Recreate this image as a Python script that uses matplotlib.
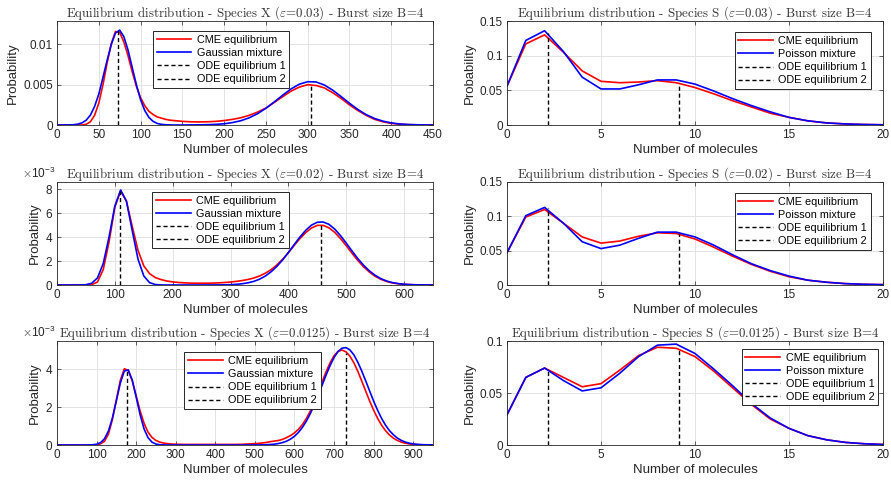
import matplotlib
matplotlib.use('Agg')
import matplotlib.pyplot as plt
from matplotlib.ticker import FuncFormatter, ScalarFormatter
import numpy as np

plt.rcParams['font.family'] = ['Liberation Sans', 'DejaVu Sans']
plt.rcParams['mathtext.fontset'] = 'cm'

# ---------------- Species X (left column) ----------------
# eps = 0.03
x1 = np.r_[0:150:5, 150:451:10]
x1_cme = [0, 0, 0, 0, 0, 0, 0, 0.0001, 0.0004, 0.0012, 0.0027, 0.0050, 0.0077, 0.0101,
          0.0116, 0.0115, 0.0103, 0.0086, 0.0066, 0.0048, 0.0034, 0.0024, 0.0017, 0.0013,
          0.0010, 0.00085, 0.0007, 0.0006, 0.00055, 0.0005,
          0.00045, 0.0004, 0.00038, 0.0004, 0.00045, 0.00055, 0.0007, 0.0009, 0.0012, 0.0016,
          0.0021, 0.0028, 0.0035, 0.0042, 0.0047, 0.0050, 0.0049, 0.0046, 0.0040, 0.0033,
          0.0025, 0.0018, 0.0012, 0.0007, 0.0004, 0.0002, 0.0001, 0.00005, 0.00002, 0.00001, 0]
x1_gauss = [0, 0.000001, 0.000004, 0.00001, 0.00004, 0.00011, 0.00027, 0.0006, 0.00123, 0.0023,
            0.00382, 0.0059, 0.00803, 0.0100, 0.01141, 0.01177, 0.01097, 0.0093, 0.00714, 0.0050,
            0.00314, 0.0018, 0.00094, 0.00045, 0.00019, 0.00008, 0.00003, 0.00001, 0, 0,
            0.000002, 0.00001, 0.00002, 0.00004, 0.00008, 0.00015, 0.0003, 0.00053, 0.00089, 0.0014,
            0.00207, 0.00286, 0.00369, 0.00447, 0.00506, 0.00537, 0.00534, 0.00496, 0.00432, 0.00353,
            0.0027, 0.00193, 0.00129, 0.00081, 0.00048, 0.00026, 0.00013, 0.00006, 0.00003, 0.00001, 0]

# eps = 0.02
x2 = np.arange(0, 651, 10)
x2_cme = np.array([0, 0, 0, 0, 0, 0, 0.03, 0.25, 1.3, 3.6, 6.5, 7.85, 7.0, 4.9, 2.9, 1.6,
                   0.95, 0.62, 0.45, 0.33, 0.26, 0.21, 0.18, 0.16, 0.15, 0.15, 0.15, 0.16, 0.18,
                   0.21, 0.25, 0.30, 0.37, 0.46, 0.58, 0.75, 0.98, 1.28, 1.67, 2.15, 2.70, 3.30,
                   3.88, 4.38, 4.76, 4.98, 4.98, 4.78, 4.40, 3.88, 3.28, 2.65, 2.05, 1.52, 1.08,
                   0.73, 0.47, 0.29, 0.17, 0.10, 0.055, 0.03, 0.015, 0.007, 0.003, 0.001]) * 1e-3
x2_gauss = np.array([0, 0, 0, 0, 0.003, 0.025, 0.144, 0.594, 1.80, 4.02, 6.59, 7.93, 7.01, 4.55,
                     2.17, 0.76, 0.196, 0.037, 0.005, 0.001, 0, 0, 0, 0, 0, 0.001, 0.002, 0.004,
                     0.007, 0.015, 0.030, 0.057, 0.104, 0.181, 0.30, 0.48, 0.74, 1.10, 1.55, 2.09,
                     2.71, 3.37, 4.01, 4.57, 5.00, 5.24, 5.26, 5.07, 4.67, 4.13, 3.50, 2.84, 2.21,
                     1.65, 1.18, 0.81, 0.53, 0.33, 0.20, 0.116, 0.064, 0.034, 0.017, 0.008, 0.004,
                     0.002]) * 1e-3

# eps = 0.0125
x3 = np.arange(0, 951, 10)
x3_cme = np.array([0, 0, 0, 0, 0, 0, 0, 0, 0, 0, 0.01, 0.06, 0.20, 0.58, 1.35, 2.40, 3.42, 4.03,
                   3.95, 3.40, 2.60, 1.80, 1.15, 0.68, 0.40, 0.24, 0.15, 0.10, 0.07, 0.05, 0.04,
                   0.035, 0.03, 0.03, 0.03, 0.03, 0.03, 0.03, 0.03, 0.03, 0.03, 0.03, 0.03, 0.03,
                   0.03, 0.03, 0.035, 0.04, 0.05, 0.06, 0.07, 0.09, 0.11, 0.14, 0.18, 0.21, 0.24,
                   0.30, 0.39, 0.50, 0.64, 0.83, 1.08, 1.40, 1.80, 2.27, 2.80, 3.35, 3.88, 4.35,
                   4.72, 4.95, 5.02, 4.93, 4.70, 4.35, 3.90, 3.38, 2.85, 2.32, 1.84, 1.41, 1.05,
                   0.76, 0.53, 0.36, 0.24, 0.15, 0.095, 0.058, 0.034, 0.02, 0.011, 0.006, 0.003,
                   0.002]) * 1e-3
x3_gauss = np.array([0, 0, 0, 0, 0, 0, 0, 0, 0.0025, 0.011, 0.040, 0.124, 0.33, 0.74, 1.43, 2.34,
                     3.28, 3.91, 3.97, 3.44, 2.54, 1.60, 0.85, 0.39, 0.15, 0.050, 0.014, 0.004,
                     0.001, 0, 0, 0, 0, 0, 0, 0, 0, 0, 0, 0, 0, 0, 0, 0, 0, 0, 0, 0, 0.0006, 0.001,
                     0.0023, 0.004, 0.0085, 0.015, 0.028, 0.047, 0.080, 0.129, 0.203, 0.311, 0.462,
                     0.664, 0.930, 1.26, 1.66, 2.12, 2.64, 3.17, 3.71, 4.20, 4.63, 4.94, 5.12, 5.15,
                     5.03, 4.77, 4.38, 3.91, 3.39, 2.85, 2.32, 1.84, 1.41, 1.05, 0.76, 0.54, 0.366,
                     0.242, 0.155, 0.096, 0.058, 0.034, 0.019, 0.011, 0.006, 0.003]) * 1e-3

x_ode = [[73.4, 304], [109.6, 456.4], [176, 729]]
x_ode_top = [[0.0117, 0.0050], [7.86e-3, 4.98e-3], [4.0e-3, 4.86e-3]]

# ---------------- Species S (right column) ----------------
s_n = np.arange(0, 21)
s1_cme = [0.056, 0.117, 0.130, 0.105, 0.078, 0.063, 0.061, 0.062, 0.064, 0.061, 0.054,
          0.045, 0.035, 0.026, 0.017, 0.011, 0.006, 0.003, 0.0015, 0.0007, 0.0003]
s1_pois = [0.056, 0.122, 0.136, 0.106, 0.069, 0.052, 0.052, 0.058, 0.065, 0.065, 0.059,
           0.049, 0.038, 0.028, 0.019, 0.011, 0.006, 0.003, 0.0015, 0.0007, 0.0003]
s2_cme = [0.047, 0.099, 0.110, 0.090, 0.070, 0.061, 0.064, 0.071, 0.076, 0.075, 0.067,
          0.055, 0.042, 0.030, 0.020, 0.012, 0.007, 0.004, 0.002, 0.001, 0.0005]
s2_pois = [0.047, 0.101, 0.113, 0.090, 0.063, 0.053, 0.058, 0.068, 0.077, 0.077, 0.070,
           0.058, 0.044, 0.031, 0.021, 0.013, 0.007, 0.004, 0.002, 0.001, 0.0005]
s3_cme = [0.029, 0.065, 0.074, 0.065, 0.056, 0.059, 0.072, 0.086, 0.094, 0.093, 0.085,
          0.071, 0.055, 0.039, 0.025, 0.016, 0.009, 0.005, 0.0025, 0.0012, 0.0005]
s3_pois = [0.029, 0.065, 0.074, 0.062, 0.052, 0.055, 0.069, 0.085, 0.096, 0.097, 0.088,
           0.073, 0.057, 0.040, 0.026, 0.016, 0.009, 0.005, 0.0025, 0.0012, 0.0005]

s_ode = [2.2, 9.15]
s_ode_top = [[0.133, 0.061], [0.112, 0.075], [0.073, 0.093]]

eps_labels = ['0.03', '0.02', '0.0125']

left_data = [(x1, x1_cme, x1_gauss), (x2, x2_cme, x2_gauss), (x3, x3_cme, x3_gauss)]
left_xlim = [450, 650, 950]
left_xstep = [50, 100, 100]
left_ylim = [0.0129, 0.0086, 0.0055]
left_yticks = [[0, 0.005, 0.01], [0, 0.002, 0.004, 0.006, 0.008], [0, 0.002, 0.004]]
left_leg = [(0.255, 0.90), (0.253, 0.905), (0.338, 0.89)]

right_data = [(s1_cme, s1_pois), (s2_cme, s2_pois), (s3_cme, s3_pois)]
right_ylim = [0.15, 0.15, 0.1]
right_yticks = [[0, 0.05, 0.1, 0.15], [0, 0.05, 0.1, 0.15], [0, 0.05, 0.1]]
right_leg = [(0.968, 0.89), (0.968, 0.89), (0.987, 0.925)]

W, H = 891, 484
fig = plt.figure(figsize=(W / 100, H / 100), dpi=100)

row_top = [21, 182, 341]
row_bot = [125, 285, 445]
col_left = [57, 507]
ax_w = 376

txt = '#262626'


def style_axes(ax):
    ax.grid(True, color='#e3e3e3', linewidth=0.7)
    ax.set_axisbelow(True)
    ax.tick_params(direction='in', top=True, right=True, length=3, width=0.5,
                   labelsize=8.5, colors=txt, pad=3)
    for sp in ax.spines.values():
        sp.set_linewidth(0.6)
        sp.set_color(txt)
    ax.set_xlabel('Number of molecules', fontsize=9.5, color=txt, labelpad=2)
    ax.set_ylabel('Probability', fontsize=9.5, color=txt, labelpad=3)


def add_legend(ax, labels, anchor, loc):
    leg = ax.legend(labels, loc=loc, bbox_to_anchor=anchor, fontsize=7.8,
                    fancybox=False, framealpha=1, edgecolor='#262626',
                    handlelength=3.2, handletextpad=0.5, labelspacing=0.28,
                    borderpad=0.35, borderaxespad=0)
    leg.get_frame().set_linewidth(0.7)


for r in range(3):
    b = 1 - row_bot[r] / H
    h = (row_bot[r] - row_top[r]) / H

    # species X
    ax = fig.add_axes([col_left[0] / W, b, ax_w / W, h])
    xs, cme, gauss = left_data[r]
    ax.plot(xs, cme, color='red', lw=1.2)
    ax.plot(xs, gauss, color='blue', lw=1.2)
    for xe, top in zip(x_ode[r], x_ode_top[r]):
        ax.plot([xe, xe], [0, top], 'k--', lw=1.0, dashes=(3, 2))
    ax.set_xlim(0, left_xlim[r])
    ax.set_xticks(np.arange(0, left_xlim[r] + 1, left_xstep[r]))
    ax.set_ylim(0, left_ylim[r])
    ax.set_yticks(left_yticks[r])
    if r == 0:
        ax.yaxis.set_major_formatter(FuncFormatter(lambda v, p: '%g' % v))
    else:
        fmt = ScalarFormatter(useMathText=True)
        fmt.set_powerlimits((-3, -3))
        ax.yaxis.set_major_formatter(fmt)
        off = ax.yaxis.get_offset_text()
        off.set_fontsize(8.5)
        off.set_color(txt)
        off.set_x(-0.005)
        off.set_horizontalalignment('right')
    style_axes(ax)
    ax.set_title(r'Equilibrium distribution - Species X ($\varepsilon$=%s) - Burst size B=4' % eps_labels[r],
                 fontfamily='cmr10', fontsize=9.3, color='#333333', pad=3, y=1.0)
    add_legend(ax, ['CME equilibrium', 'Gaussian mixture', 'ODE equilibrium 1', 'ODE equilibrium 2'],
               left_leg[r], 'upper left')

    # species S
    ax = fig.add_axes([col_left[1] / W, b, ax_w / W, h])
    cme, pois = right_data[r]
    ax.plot(s_n, cme, color='red', lw=1.2)
    ax.plot(s_n, pois, color='blue', lw=1.2)
    for xe, top in zip(s_ode, s_ode_top[r]):
        ax.plot([xe, xe], [0, top], 'k--', lw=1.0, dashes=(3, 2))
    ax.set_xlim(0, 20)
    ax.set_xticks([0, 5, 10, 15, 20])
    ax.set_ylim(0, right_ylim[r])
    ax.set_yticks(right_yticks[r])
    ax.yaxis.set_major_formatter(FuncFormatter(lambda v, p: '%g' % v))
    style_axes(ax)
    ax.set_title(r'Equilibrium distribution - Species S ($\varepsilon$=%s) - Burst size B=4' % eps_labels[r],
                 fontfamily='cmr10', fontsize=9.3, color='#333333', pad=3, y=1.0)
    add_legend(ax, ['CME equilibrium', 'Poisson mixture', 'ODE equilibrium 1', 'ODE equilibrium 2'],
               right_leg[r], 'upper right')

fig.savefig('out.png', dpi=100)
